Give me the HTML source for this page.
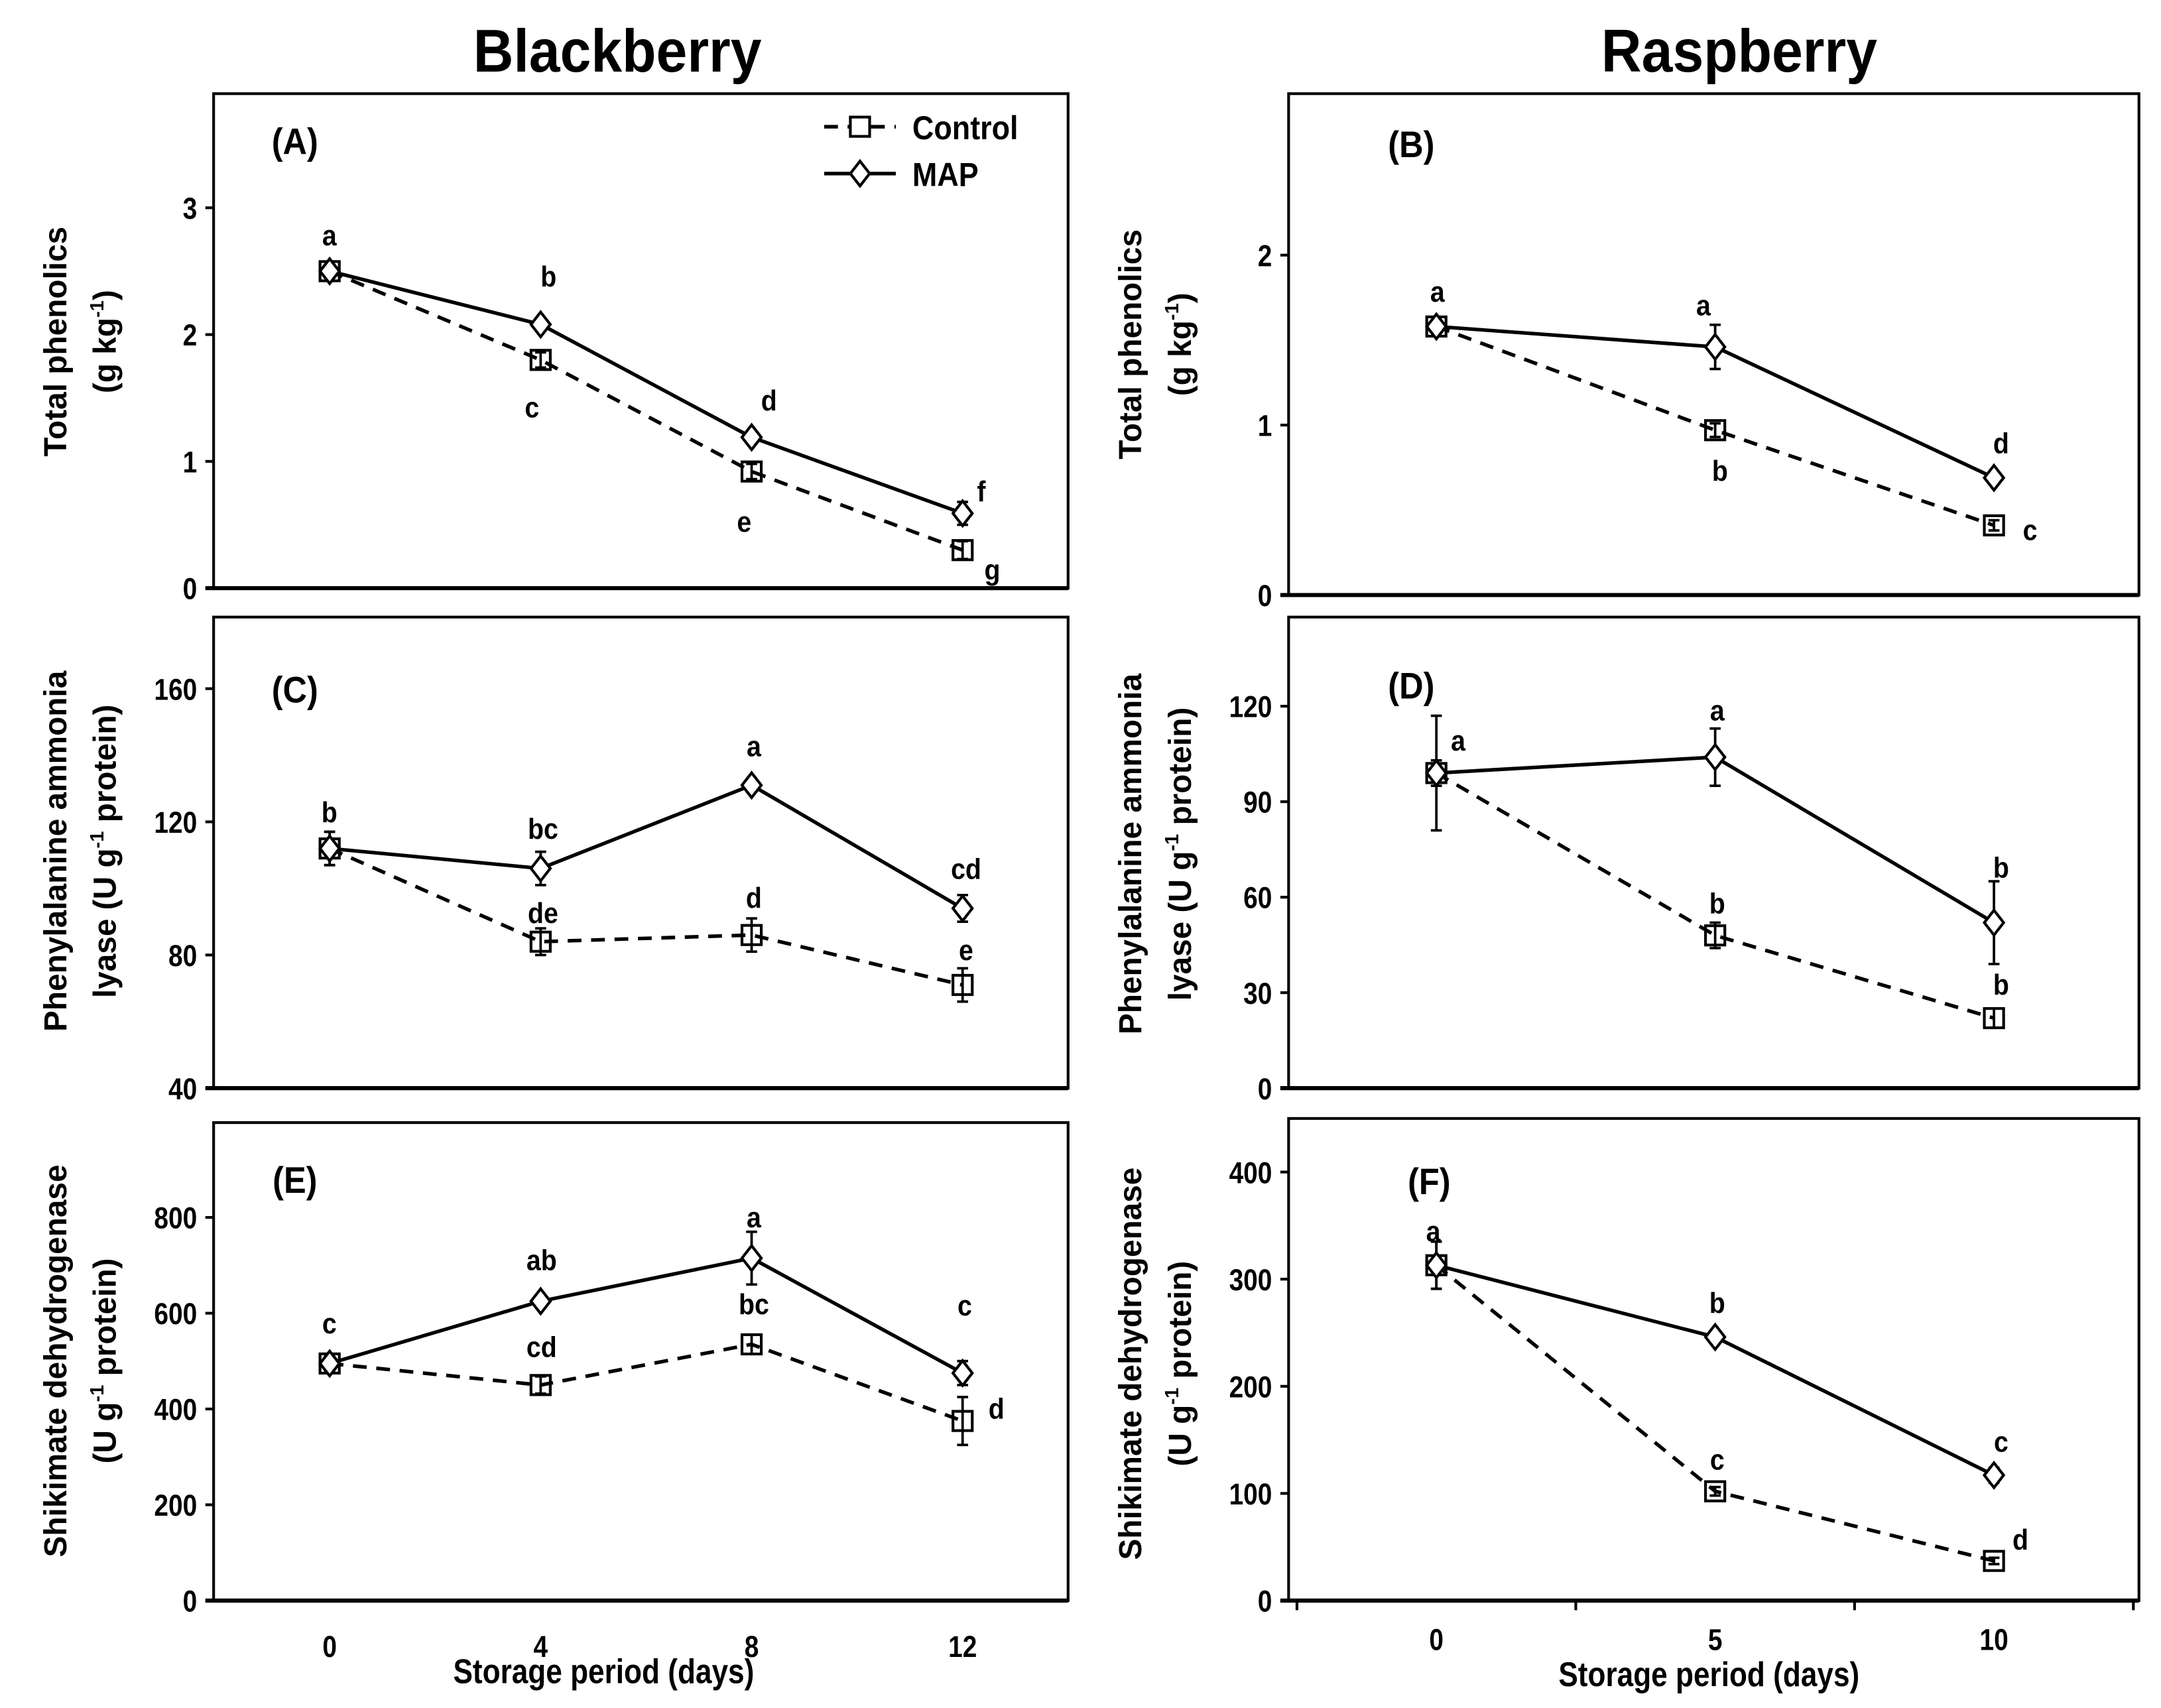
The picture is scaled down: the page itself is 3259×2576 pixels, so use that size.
<!DOCTYPE html>
<html><head><meta charset="utf-8">
<style>
html,body{margin:0;padding:0;background:#fff;}
svg{display:block;}
text{font-family:"Liberation Sans",Arial,sans-serif;font-weight:bold;fill:#000;}
</style></head>
<body>
<svg id="chart" xmlns="http://www.w3.org/2000/svg" width="3259" height="2576" viewBox="0 0 1568 1240" preserveAspectRatio="none">
<text x="448" y="52" font-size="44" text-anchor="middle" transform="translate(448,0) scale(0.92,1) translate(-448,0)">Blackberry</text>
<text x="1262" y="52" font-size="44" text-anchor="middle" transform="translate(1262,0) scale(0.92,1) translate(-1262,0)">Raspberry</text>
</svg>
<script>
// ----- data -----
const bbDays = [0, 4, 8, 12];
const rbDays = [0, 5, 10];
const bbXTicks = [0, 4, 8, 12];
const rbXTicks = [0, 5, 10];

const aControl = [2.5, 1.8, 0.92, 0.3];
const aControlErr = [0.05, 0.06, 0.06, 0.07];
const aMap = [2.5, 2.08, 1.19, 0.59];
const aMapErr = [0.04, 0.04, 0.04, 0.09];
const aTicks = [0, 1, 2, 3];
const aLettersMap = ["a", "b", "d", "f"];
const aLettersCtrl = ["", "c", "e", "g"];

const bControl = [1.58, 0.97, 0.41];
const bControlErr = [0.03, 0.04, 0.03];
const bMap = [1.58, 1.46, 0.69];
const bMapErr = [0.03, 0.13, 0.02];
const bTicks = [0, 1, 2];
const bLettersMap = ["a", "a", "d"];
const bLettersCtrl = ["", "b", "c"];

const cControl = [112, 84, 86, 71];
const cControlErr = [5, 4, 5, 5];
const cMap = [112, 106, 131, 94];
const cMapErr = [5, 5, 2, 4];
const cTicks = [40, 80, 120, 160];
const cLettersMap = ["b", "bc", "a", "cd"];
const cLettersCtrl = ["", "de", "d", "e"];

const dControl = [99, 48, 22];
const dControlErr = [4, 4, 3];
const dMap = [99, 104, 52];
const dMapErr = [18, 9, 13];
const dTicks = [0, 30, 60, 90, 120];
const dLettersMap = ["a", "a", "b"];
const dLettersCtrl = ["", "b", "b"];

const eControl = [495, 450, 535, 375];
const eControlErr = [20, 18, 20, 50];
const eMap = [495, 625, 715, 475];
const eMapErr = [15, 12, 55, 25];
const eTicks = [0, 200, 400, 600, 800];
const eLettersMap = ["c", "ab", "a", "c"];
const eLettersCtrl = ["", "cd", "bc", "d"];

const fControl = [313, 102, 37];
const fControlErr = [22, 4, 3];
const fMap = [313, 246, 117];
const fMapErr = [22, 4, 7];
const fTicks = [0, 100, 200, 300, 400];
const fLettersMap = ["a", "b", "c"];
const fLettersCtrl = ["", "c", "d"];

// ----- drawing -----
const NS = "http://www.w3.org/2000/svg";
const svg = document.getElementById("chart");
function mk(tag, attrs, parent) {
  const e = document.createElementNS(NS, tag);
  for (const k in attrs) e.setAttribute(k, attrs[k]);
  (parent || svg).appendChild(e);
  return e;
}
function txt(parent, x, y, s, size, anchor, sx) {
  const t = mk("text", {x: 0, y: 0, "font-size": size, "text-anchor": anchor || "middle",
    transform: "translate(" + x + "," + y + ") scale(" + (sx || 0.82) + ",1)"}, parent);
  t.textContent = s;
  return t;
}

function panel(cfg) {
  const g = mk("g", {});
  
  
  const sx = v => cfg.L + (v - cfg.xmin) / (cfg.xmax - cfg.xmin) * (cfg.R - cfg.L);
  const sy = v => cfg.B - (v - cfg.ymin) / (cfg.ymax - cfg.ymin) * (cfg.B - cfg.T);
  const frame = mk("rect", {x: cfg.L, y: cfg.T, width: cfg.R - cfg.L, height: cfg.B - cfg.T, fill: "none", stroke: "#000", "stroke-width": 2}, g);
  
  
  const xa = mk("line", {x1: cfg.L - 6, x2: cfg.R, y1: cfg.B, y2: cfg.B, stroke: "#000", "stroke-width": 3}, g);
  
  
  cfg.ticks.forEach(v => {
    const y = sy(v);
    mk("line", {x1: cfg.L - 6, x2: cfg.L, y1: y, y2: y, stroke: "#000", "stroke-width": 2}, g);
    const t = txt(g, cfg.L - 12, y + 8, String(v), 22, "end", 0.85);
    
    
  });
  if (cfg.xMinor) cfg.xMinor.forEach(v => {
    mk("line", {x1: sx(v), x2: sx(v), y1: cfg.B, y2: cfg.B + 7, stroke: "#000", "stroke-width": 2}, g);
  });
  if (cfg.xTicks) cfg.xTicks.forEach(v => {
    const t = txt(g, sx(v), cfg.xTickY, String(v), 22, "middle", 0.85);
    
    
  });
  const pt = txt(g, cfg.tagX, cfg.tagY, cfg.tag, 27, "middle", 0.9);
  
  
  cfg.ylab.forEach((s, i) => {
    const x = cfg.ylabX + i * 36;
    const t = mk("text", {x: 0, y: 0, "font-size": 23, "text-anchor": "middle",
      transform: "translate(" + x + "," + cfg.ylabY + ") rotate(-90)"}, g);
    t.innerHTML = s;
    
    
  });
  function series(vals, errs, dashed, marker, nm) {
    const sg = mk("g", {}, g);
    
    
    const pts = vals.map((v, i) => sx(cfg.days[i]) + "," + sy(v)).join(" ");
    mk("polyline", {points: pts, fill: "none", stroke: "#000", "stroke-width": 2.6,
      "stroke-dasharray": dashed ? "10,7" : "none"}, sg);
    vals.forEach((v, i) => {
      const x = sx(cfg.days[i]), y = sy(v);
      const y1 = sy(v + errs[i]), y2 = sy(v - errs[i]);
      mk("line", {x1: x, x2: x, y1: y1, y2: y2, stroke: "#000", "stroke-width": 1.8}, sg);
      mk("line", {x1: x - 4, x2: x + 4, y1: y1, y2: y1, stroke: "#000", "stroke-width": 1.8}, sg);
      mk("line", {x1: x - 4, x2: x + 4, y1: y2, y2: y2, stroke: "#000", "stroke-width": 1.8}, sg);
      let m;
      if (marker === "sq") m = mk("rect", {x: x - 7, y: y - 7, width: 14, height: 14, fill: "none", stroke: "#000", "stroke-width": 2}, sg);
      else m = mk("polygon", {points: (x) + "," + (y - 9) + " " + (x + 7) + "," + y + " " + x + "," + (y + 9) + " " + (x - 7) + "," + y, fill: "#fff", stroke: "#000", "stroke-width": 2}, sg);
      
      
    });
  }
  series(cfg.ctrl, cfg.ctrlErr, true, "sq", "control-series");
  series(cfg.map, cfg.mapErr, false, "dia", "map-series");
  cfg.letters.forEach(l => {
    if (!l[0]) return;
    const t = txt(g, l[1], l[2] + 7, l[0], 21, "middle", 0.9);
    
    
  });
  return {g, sx, sy};
}

const sup = '<tspan font-size="14" dy="-9">-1</tspan><tspan dy="9">';
panel({name: "panel-a", L: 155, R: 775, T: 68, B: 427, xmin: -2.2, xmax: 14, ymin: 0, ymax: 3.9,
  days: bbDays, ticks: aTicks, ctrl: aControl, ctrlErr: aControlErr, map: aMap, mapErr: aMapErr,
  tag: "(A)", tagX: 214, tagY: 112, ylabX: 48, ylabY: 248,
  ylab: ["Total phenolics", "(g kg" + sup + ")</tspan>"],
  letters: [[aLettersMap[0], 239, 171], [aLettersMap[1], 398, 201], [aLettersCtrl[1], 386, 296], [aLettersMap[2], 558, 291], [aLettersCtrl[2], 540, 379], [aLettersMap[3], 712, 357], [aLettersCtrl[3], 720, 414]]});
panel({name: "panel-b", L: 935, R: 1552, T: 68, B: 432, xmin: -2.65, xmax: 12.6, ymin: 0, ymax: 2.95,
  days: rbDays, ticks: bTicks, ctrl: bControl, ctrlErr: bControlErr, map: bMap, mapErr: bMapErr,
  tag: "(B)", tagX: 1024, tagY: 114, ylabX: 828, ylabY: 250,
  ylab: ["Total phenolics", "(g kg" + sup + ")</tspan>"],
  letters: [[bLettersMap[0], 1043, 212], [bLettersMap[1], 1236, 222], [bLettersCtrl[1], 1248, 342], [bLettersMap[2], 1452, 322], [bLettersCtrl[2], 1473, 385]]});
panel({name: "panel-c", L: 155, R: 775, T: 448, B: 790, xmin: -2.2, xmax: 14, ymin: 40, ymax: 181.5,
  days: bbDays, ticks: cTicks, ctrl: cControl, ctrlErr: cControlErr, map: cMap, mapErr: cMapErr,
  tag: "(C)", tagX: 214, tagY: 510, ylabX: 48, ylabY: 618,
  ylab: ["Phenylalanine ammonia", "lyase (U g" + sup + " protein)</tspan>"],
  letters: [[cLettersMap[0], 239, 590], [cLettersMap[1], 394, 602], [cLettersCtrl[1], 394, 663], [cLettersMap[2], 547, 542], [cLettersCtrl[2], 547, 652], [cLettersMap[3], 701, 631], [cLettersCtrl[3], 701, 690]]});
panel({name: "panel-d", L: 935, R: 1552, T: 448, B: 790, xmin: -2.65, xmax: 12.6, ymin: 0, ymax: 148,
  days: rbDays, ticks: dTicks, ctrl: dControl, ctrlErr: dControlErr, map: dMap, mapErr: dMapErr,
  tag: "(D)", tagX: 1024, tagY: 507, ylabX: 828, ylabY: 620,
  ylab: ["Phenylalanine ammonia", "lyase (U g" + sup + " protein)</tspan>"],
  letters: [[dLettersMap[0], 1058, 538], [dLettersMap[1], 1246, 516], [dLettersCtrl[1], 1246, 656], [dLettersMap[2], 1452, 630], [dLettersCtrl[2], 1452, 715]]});
panel({name: "panel-e", L: 155, R: 775, T: 815, B: 1162, xmin: -2.2, xmax: 14, ymin: 0, ymax: 998,
  days: bbDays, ticks: eTicks, ctrl: eControl, ctrlErr: eControlErr, map: eMap, mapErr: eMapErr,
  xTicks: bbXTicks, xTickY: 1203,
  tag: "(E)", tagX: 214, tagY: 866, ylabX: 48, ylabY: 988,
  ylab: ["Shikimate dehydrogenase", "(U g" + sup + " protein)</tspan>"],
  letters: [[eLettersMap[0], 239, 961], [eLettersMap[1], 393, 915], [eLettersCtrl[1], 393, 978], [eLettersMap[2], 547, 884], [eLettersCtrl[2], 547, 947], [eLettersMap[3], 700, 948], [eLettersCtrl[3], 723, 1023]]});
panel({name: "panel-f", L: 935, R: 1552, T: 812, B: 1162, xmin: -2.65, xmax: 12.6, ymin: 0, ymax: 450,
  days: rbDays, ticks: fTicks, ctrl: fControl, ctrlErr: fControlErr, map: fMap, mapErr: fMapErr,
  xTicks: rbXTicks, xTickY: 1198, xMinor: [-2.5, 2.5, 7.5, 12.5],
  tag: "(F)", tagX: 1037, tagY: 867, ylabX: 828, ylabY: 990,
  ylab: ["Shikimate dehydrogenase", "(U g" + sup + " protein)</tspan>"],
  letters: [[fLettersMap[0], 1040, 894], [fLettersMap[1], 1246, 946], [fLettersCtrl[1], 1246, 1060], [fLettersMap[2], 1452, 1047], [fLettersCtrl[2], 1466, 1118]]});

const xt1 = txt(svg, 438, 1222, "Storage period (days)", 25, "middle", 0.85);


const xt2 = txt(svg, 1240, 1224, "Storage period (days)", 25, "middle", 0.85);



const lg = mk("g", {});


const le1 = mk("g", {}, lg);


mk("line", {x1: 598, x2: 650, y1: 92, y2: 92, stroke: "#000", "stroke-width": 2.6, "stroke-dasharray": "10,7"}, le1);
mk("rect", {x: 617, y: 85, width: 14, height: 14, fill: "#fff", stroke: "#000", "stroke-width": 2}, le1);
txt(le1, 662, 101, "Control", 24, "start", 0.9);
const le2 = mk("g", {}, lg);


mk("line", {x1: 598, x2: 650, y1: 126, y2: 126, stroke: "#000", "stroke-width": 2.6}, le2);
mk("polygon", {points: "624,117 631,126 624,135 617,126", fill: "#fff", stroke: "#000", "stroke-width": 2}, le2);
txt(le2, 662, 135, "MAP", 24, "start", 0.9);
</script>
</body></html>
